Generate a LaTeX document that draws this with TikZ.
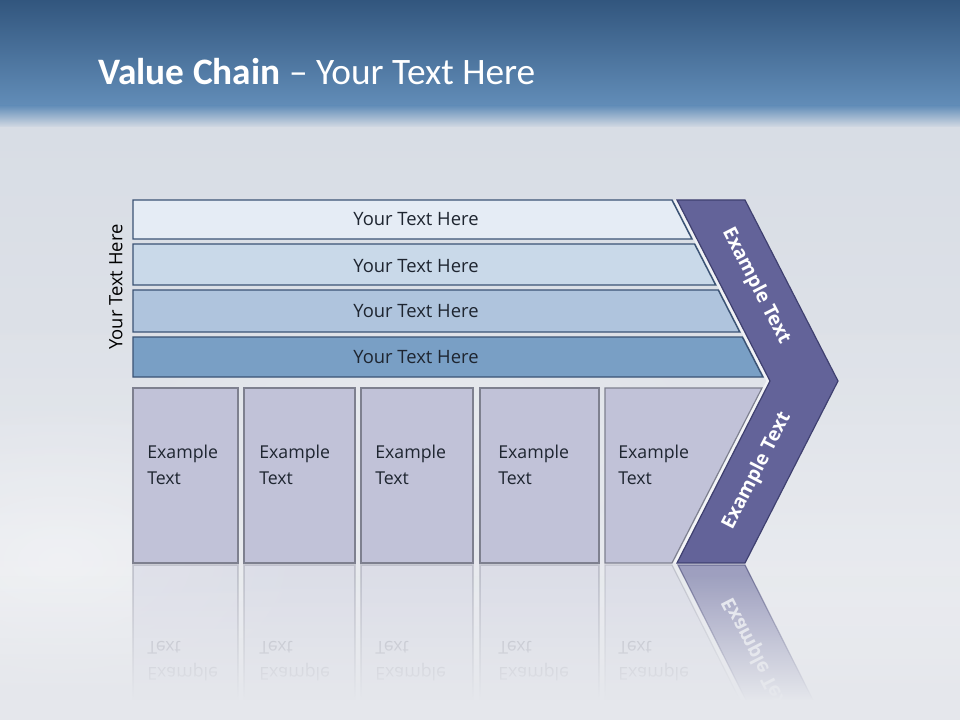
\documentclass[tikz,border=0pt]{standalone}
\usepackage{fontspec}
\setmainfont{Open Sans}
\newfontfamily\titlefont{Carlito}
\usetikzlibrary{fadings}
\definecolor{bandtop}{RGB}{50,86,126}
\definecolor{bandbot}{RGB}{98,141,184}
\definecolor{skytop}{RGB}{216,221,229}
\definecolor{skybot}{RGB}{229,231,236}
\definecolor{barA}{RGB}{229,236,245}
\definecolor{barB}{RGB}{201,217,233}
\definecolor{barC}{RGB}{175,196,221}
\definecolor{barD}{RGB}{121,159,197}
\definecolor{barline}{RGB}{59,83,117}
\definecolor{boxfill}{RGB}{193,194,216}
\definecolor{boxline}{RGB}{126,128,143}
\definecolor{chevfill}{RGB}{99,99,153}
\definecolor{chevline}{RGB}{63,64,112}
\definecolor{txtdark}{RGB}{30,37,48}
\tikzfading[name=fadedown, top color=transparent!100, bottom color=transparent!0]
\tikzfading[name=softblob, inner color=transparent!0, outer color=transparent!100]
\begin{document}
\begin{tikzpicture}[x=0.75pt,y=-0.75pt,
  barshape/.style={draw=barline, line width=1.1pt},
  boxshape/.style={fill=boxfill, draw=boxline, line width=0.9pt},
  chevshape/.style={fill=chevfill, draw=chevline, line width=0.9pt},
  bartext/.style={text=txtdark, font=\fontsize{13.8}{16}\selectfont, inner sep=0pt},
  boxtext/.style={text=txtdark, font=\fontsize{13.3}{19.5}\selectfont, align=left, anchor=west, inner sep=0pt},
  reftext/.style={text=boxline, text opacity=0.5, font=\fontsize{13.3}{19.5}\selectfont, align=left, anchor=west, inner sep=0pt, yscale=-1},
  chevtext/.style={text=white, font=\fontsize{14.5}{17}\selectfont\bfseries, inner sep=0pt}]
\useasboundingbox (0,0) rectangle (960,720);
% background
\shade[top color=bandtop, bottom color=bandbot] (0,0) rectangle (960,106);
\shade[top color=bandbot, bottom color=skytop] (0,105.5) rectangle (960,128);
\shade[top color=skytop, bottom color=skybot] (0,127.5) rectangle (960,720);
\fill[white, opacity=0.35, path fading=fadedown] (0,300) rectangle (960,720);
\fill[white, opacity=0.35, path fading=softblob] (60,560) ellipse (260 and 160);
\fill[white, opacity=0.25, path fading=softblob] (420,420) ellipse (300 and 140);
% title
\node[anchor=base west, inner sep=0pt, text=white, font=\titlefont\fontsize{28}{32}\selectfont] (title) at (98,85) {\textbf{Value Chain} – Your Text Here};
% vertical label
\node[bartext, text=black, rotate=90] (side) at (116,287) {Your Text Here};
% bars
\filldraw[barshape, fill=barA] (133,200) -- (672,200) -- (692,239) -- (133,239) -- cycle;
\filldraw[barshape, fill=barB] (133,244) -- (694.6,244) -- (715.7,285) -- (133,285) -- cycle;
\filldraw[barshape, fill=barC] (133,290) -- (718.3,290) -- (739.8,332) -- (133,332) -- cycle;
\filldraw[barshape, fill=barD] (133,337) -- (742.4,337) -- (763,377) -- (133,377) -- cycle;
\node[bartext] (bar1) at (416,219) {Your Text Here};
\node[bartext] (bar2) at (416,266) {Your Text Here};
\node[bartext] (bar3) at (416,311) {Your Text Here};
\node[bartext] (bar4) at (416,357) {Your Text Here};
% reflection of boxes
\begin{scope}[opacity=0.3]
\filldraw[boxshape] (133,565) rectangle (238,720);
\filldraw[boxshape] (244,565) rectangle (355,720);
\filldraw[boxshape] (361,565) rectangle (473,720);
\filldraw[boxshape] (480,565) rectangle (599,720);
\filldraw[boxshape] (605,565) -- (672,565) -- (750,720) -- (605,720) -- cycle;
\end{scope}
\filldraw[chevshape, opacity=0.55] (678,565) -- (745,565) -- (823,720) -- (756,720) -- cycle;
\node[reftext] (r1) at (147,661) {Example\\Text};
\node[reftext] (r2) at (259,661) {Example\\Text};
\node[reftext] (r3) at (375,661) {Example\\Text};
\node[reftext] (r4) at (498,661) {Example\\Text};
\node[reftext] (r5) at (618,661) {Example\\Text};
\node[chevtext, text opacity=0.75, yscale=-1, rotate=62.8] (rc) at (757,656) {Example Text};
\fill[skybot, path fading=fadedown] (0,575) rectangle (960,700);
\fill[skybot] (0,699.5) rectangle (960,720);
% boxes
\filldraw[boxshape] (133,388) rectangle (238,563);
\filldraw[boxshape] (244,388) rectangle (355,563);
\filldraw[boxshape] (361,388) rectangle (473,563);
\filldraw[boxshape] (480,388) rectangle (599,563);
\filldraw[boxshape] (605,388) -- (762,388) -- (672,563) -- (605,563) -- cycle;
\node[boxtext] (b1) at (147,465) {Example\\Text};
\node[boxtext] (b2) at (259,465) {Example\\Text};
\node[boxtext] (b3) at (375,465) {Example\\Text};
\node[boxtext] (b4) at (498,465) {Example\\Text};
\node[boxtext] (b5) at (618,465) {Example\\Text};
% chevron
\draw[white, opacity=0.6, line width=2pt] (675,200) -- (768,381) -- (675,563);
\filldraw[chevshape] (677,200) -- (745,200) -- (838,381) -- (745,563) -- (677,563) -- (770,381) -- cycle;
\node[chevtext, rotate=-62.8] (c1) at (756,286) {Example Text};
\node[chevtext, rotate=62.8] (c2) at (757,471) {Example Text};
\end{tikzpicture}
\end{document}
